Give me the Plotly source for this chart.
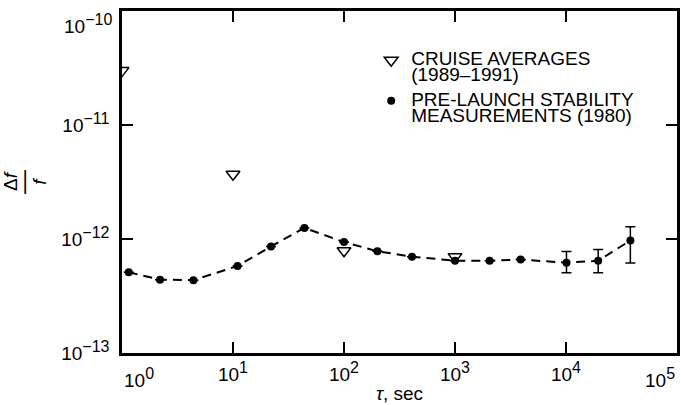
import plotly.graph_objects as go

# Pre-launch stability measurements (1980)
prelaunch_tau = [1.15, 2.2, 4.4, 11, 22, 44, 100, 200, 410, 1000, 2050, 3900, 10100, 19500, 38000]
prelaunch_val = [5.1e-13, 4.4e-13, 4.35e-13, 5.8e-13, 8.6e-13, 1.25e-12, 9.4e-13, 7.8e-13,
                 7.0e-13, 6.45e-13, 6.45e-13, 6.6e-13, 6.2e-13, 6.45e-13, 9.7e-13]
err_upper = [0, 0, 0, 0, 0, 0, 0, 0, 0, 0, 0, 0, 7.75e-13, 8.1e-13, 1.28e-12]
err_lower = [0, 0, 0, 0, 0, 0, 0, 0, 0, 0, 0, 0, 5.05e-13, 5.05e-13, 6.15e-13]

# Cruise averages (1989-1991)
cruise_tau = [1, 10, 100, 1000]
cruise_val = [3.0e-11, 3.7e-12, 7.9e-13, 7.0e-13]

FONT = "Liberation Sans, Arial, Helvetica, sans-serif"
SUP = "<sup><span style='font-size:16px'>{}</span></sup>"

x_tickvals = [10, 100, 1000, 10000]
x_ticktext = ["10" + SUP.format(e) for e in ["1", "2", "3", "4"]]
x_edge_labels = ["10" + SUP.format("0"), "10" + SUP.format("5")]
y_tickvals = [1e-13, 1e-12, 1e-11]
y_ticktext = ["10" + SUP.format(e) for e in ["\u221213", "\u221212", "\u221211"]]
y_top_label = "10" + SUP.format("\u221210")

BIG = "<span style='font-size:19px'>{}</span>"
legend_names = [BIG.format("CRUISE AVERAGES") + "<br>" + BIG.format("(1989\u20131991)"),
                BIG.format("PRE-LAUNCH STABILITY") + "<br>" + BIG.format("MEASUREMENTS (1980)")]

y_title = ("<span style='font-size:19px'>\u0394<i>f</i></span><br>"
           "<span style='font-size:24px'>\u2014</span><br>"
           "<span style='font-size:19px'><i>f</i></span>")

plus = [u - v if u else 0 for u, v in zip(err_upper, prelaunch_val)]
minus = [v - l if l else 0 for l, v in zip(err_lower, prelaunch_val)]

fig = go.Figure()
fig.add_trace(go.Scatter(
    x=prelaunch_tau, y=prelaunch_val, mode="lines",
    line=dict(color="black", width=2, dash="9px,6px"),
    showlegend=False, hoverinfo="skip"))
fig.add_trace(go.Scatter(
    x=cruise_tau, y=cruise_val, mode="markers",
    name=legend_names[0], legendgroup="cruise",
    marker=dict(symbol="triangle-down-open", size=12, color="black", line=dict(width=1.5))))
fig.add_trace(go.Scatter(
    x=prelaunch_tau, y=prelaunch_val, mode="markers",
    name=legend_names[1], legendgroup="prelaunch",
    marker=dict(symbol="circle", size=8, color="black"),
    error_y=dict(type="data", symmetric=False, array=plus, arrayminus=minus,
                 color="black", thickness=1.5, width=5)))

axis_common = dict(
    type="log", showgrid=False, zeroline=False, automargin=False,
    showline=True, linecolor="black", linewidth=2.5,
    ticks="inside", ticklen=11, tickwidth=2, tickcolor="black",
    mirror="ticks", ticklabeloverflow="allow",
    tickfont=dict(family=FONT, size=19, color="black"),
)

label_font = dict(family=FONT, size=19, color="black")

fig.update_layout(
    width=681, height=405,
    margin=dict(l=122, r=4, t=11, b=52),
    paper_bgcolor="white", plot_bgcolor="white",
    font=dict(family=FONT, color="black"),
    xaxis=dict(range=[0, 5], tickmode="array", tickvals=x_tickvals, ticktext=x_ticktext,
               ticklabelstandoff=2,
               title=dict(text="<i>\u03c4</i>, sec", font=dict(family=FONT, size=19), standoff=4),
               **axis_common),
    yaxis=dict(range=[-13.0001, -9.9999], tickmode="array", tickvals=y_tickvals, ticktext=y_ticktext,
               ticklabelstandoff=6,
               title=dict(text=y_title, font=dict(family=FONT, size=11), standoff=30),
               **axis_common),
    legend=dict(x=0.449, y=0.899, xanchor="left", yanchor="top", valign="top",
                font=dict(family=FONT, size=12.5, color="black"),
                bgcolor="rgba(0,0,0,0)", tracegroupgap=5),
    annotations=[
        dict(x=0, y=0, xref="x", yref="paper", text=x_edge_labels[0], showarrow=False,
             xanchor="left", yanchor="top", yshift=-10, font=label_font),
        dict(x=5, y=0, xref="x", yref="paper", text=x_edge_labels[1], showarrow=False,
             xanchor="right", yanchor="top", yshift=-10, font=label_font),
        dict(x=0, y=-10, xref="paper", yref="y", text=y_top_label, showarrow=False,
             xanchor="right", yanchor="top", xshift=-8, yshift=2, font=label_font),
    ],
)

fig.write_html("out.html", config={"displayModeBar": False},
               post_script="document.body.style.margin='0px';")
